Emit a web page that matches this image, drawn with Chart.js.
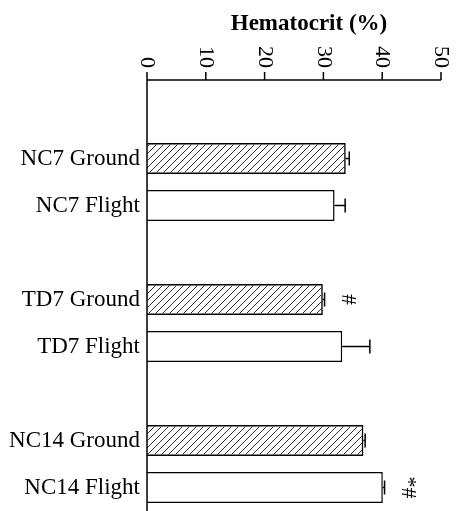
<!DOCTYPE html>
<html>
<head>
<meta charset="utf-8">
<script src="https://cdn.jsdelivr.net/npm/chart.js@4.4.1/dist/chart.umd.min.js"></script>
<style>
  body { margin: 0; background: #fff; }
  #wrap { width: 460px; height: 511px; }
</style>
</head>
<body>
<div id="wrap"><canvas id="hctChart" width="460" height="511"></canvas></div>
<script>
// values
const categories = ['', 'NC7 Ground', 'NC7 Flight', '', 'TD7 Ground', 'TD7 Flight', '', 'NC14 Ground', 'NC14 Flight'];
const hematocrit = [null, 33.8, 31.9, null, 29.9, 33.2, null, 36.8, 40.1];
const sem = [null, 0.6, 1.8, null, 0.3, 4.7, null, 0.3, 0.3];
const marks = ['', '', '', '', '#', '', '', '', '*#'];
const xTicks = [0, 10, 20, 30, 40, 50];

const serif = '"Liberation Serif", "Times New Roman", serif';

// diagonal hatch for the ground groups
const tile = document.createElement('canvas');
tile.width = 7; tile.height = 7;
const tctx = tile.getContext('2d');
tctx.strokeStyle = '#333';
tctx.lineWidth = 1;
tctx.beginPath();
tctx.moveTo(0, 7); tctx.lineTo(7, 0);
tctx.moveTo(-1, 1); tctx.lineTo(1, -1);
tctx.moveTo(6, 8); tctx.lineTo(8, 6);
tctx.stroke();
const ctx = document.getElementById('hctChart').getContext('2d');
const hatch = ctx.createPattern(tile, 'repeat');

const fills = categories.map(c => c.includes('Ground') ? hatch : '#fff');

const axisPlugin = {
  id: 'axisPlugin',
  afterDatasetsDraw(chart) {
    const c = chart.ctx;
    const x = chart.scales.x;
    const meta = chart.getDatasetMeta(0);
    c.save();
    c.strokeStyle = '#000';
    c.lineWidth = 1.5;
    hematocrit.forEach((v, i) => {
      if (v === null) return;
      const bar = meta.data[i];
      const x1 = x.getPixelForValue(v);
      const x2 = x.getPixelForValue(v + sem[i]);
      c.beginPath();
      c.moveTo(x1, bar.y); c.lineTo(x2, bar.y);
      c.moveTo(x2, bar.y - 7); c.lineTo(x2, bar.y + 7);
      c.stroke();
      if (marks[i]) {
        c.save();
        c.translate(x2 + 23, bar.y);
        c.rotate(Math.PI / 2);
        c.fillStyle = '#000';
        c.font = '22px ' + serif;
        c.textAlign = 'center';
        c.textBaseline = 'middle';
        c.fillText(marks[i], 0, 0);
        c.restore();
      }
    });
    c.restore();
  },
  afterDraw(chart) {
    const c = chart.ctx;
    const x = chart.scales.x;
    const area = chart.chartArea;
    const axisY = area.top - 8;
    const x0 = x.getPixelForValue(0);
    c.save();
    c.strokeStyle = '#000';
    c.lineWidth = 1.5;
    c.beginPath();
    c.moveTo(x0, axisY); c.lineTo(x.getPixelForValue(50), axisY);
    c.moveTo(x0, axisY); c.lineTo(x0, area.bottom);
    xTicks.forEach(t => {
      const px = x.getPixelForValue(t);
      c.moveTo(px, axisY); c.lineTo(px, axisY - 8);
    });
    c.stroke();
    c.fillStyle = '#000';
    c.font = '22px ' + serif;
    xTicks.forEach(t => {
      const px = x.getPixelForValue(t);
      c.save();
      c.translate(px, axisY - 12);
      c.rotate(Math.PI / 2);
      c.textAlign = 'right';
      c.textBaseline = 'middle';
      c.fillText(String(t), 0, 0);
      c.restore();
    });
    c.font = 'bold 23px ' + serif;
    c.textAlign = 'center';
    c.textBaseline = 'middle';
    c.fillText('Hematocrit (%)', 309, 24);
    c.restore();
  }
};

new Chart(ctx, {
  type: 'bar',
  data: {
    labels: categories,
    datasets: [{
      data: hematocrit,
      backgroundColor: fills,
      borderColor: '#000',
      borderWidth: 1.5,
      barPercentage: 0.66,
      categoryPercentage: 1
    }]
  },
  options: {
    indexAxis: 'y',
    responsive: false,
    animation: false,
    layout: { padding: { top: 88, right: 19, left: 0, bottom: 0 } },
    plugins: { legend: { display: false }, tooltip: { enabled: false } },
    scales: {
      x: { type: 'linear', min: 0, max: 50, display: false },
      y: {
        grid: { display: false, drawTicks: false },
        border: { display: false },
        ticks: { color: '#000', font: { family: serif, size: 23 }, padding: 7 },
        afterFit: s => { s.width = 147; s.paddingTop = 0; s.paddingBottom = 0; }
      }
    }
  },
  plugins: [axisPlugin]
});
</script>
</body>
</html>
